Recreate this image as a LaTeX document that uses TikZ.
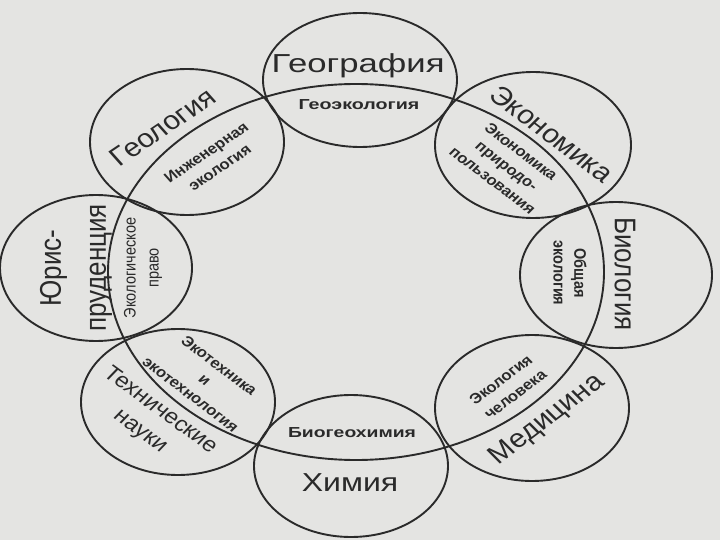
\documentclass[tikz,border=0pt]{standalone}
\usepackage{fontspec}
\setmainfont{Liberation Sans}
\definecolor{ink}{HTML}{2A2A2A}
\definecolor{paper}{HTML}{E4E4E2}
\begin{document}
\begin{tikzpicture}[x=1pt,y=-1pt,
  ring/.style={draw=ink, line width=1.9pt},
  biglbl/.style={font=\fontsize{26}{36}\selectfont, text=ink, align=center, inner sep=0pt},
  smalllbl/.style={font=\bfseries\fontsize{14.5}{19}\selectfont, text=ink, align=center, inner sep=0pt}]
\fill[paper] (0,0) rectangle (720,540);
\useasboundingbox (0,0) rectangle (720,540);
% disciplines
\draw[ring] (360,80) ellipse [x radius=97pt, y radius=67pt];   % geography
\draw[ring] (187,142) ellipse [x radius=97pt, y radius=73pt];  % geology
\draw[ring] (533,145) ellipse [x radius=98pt, y radius=73pt];  % economics
\draw[ring] (616,275) ellipse [x radius=96pt, y radius=73pt];  % biology
\draw[ring] (532,408) ellipse [x radius=97pt, y radius=73pt];  % medicine
\draw[ring] (351,466) ellipse [x radius=97pt, y radius=71pt];  % chemistry
\draw[ring] (178,402) ellipse [x radius=97pt, y radius=73pt];  % technical
\draw[ring] (96,268) ellipse [x radius=96pt, y radius=73pt];   % law
% central ecology ring
\draw[ring] (356,272) ellipse [x radius=248pt, y radius=188pt];
\begin{scope}[xscale=1.15, transform shape]
\node[biglbl, xscale=1.16] (tgeog) at ({358/1.15},66) {География};
\node[smalllbl, xscale=1.18] (igeog) at ({359/1.15},105) {Геоэкология};
\node[biglbl, rotate=37.8] (tgeol) at ({163/1.15},127) {Геология};
\node[smalllbl, rotate=37.8] (igeol) at ({213/1.15},160) {Инженерная\\экология};
\node[biglbl, rotate=-40.9] (tecon) at ({552/1.15},134) {Экономика};
\node[smalllbl, rotate=-40.9] (iecon) at ({507/1.15},166) {Экономика\\природо-\\пользования};
\node[biglbl, rotate=-90] (tbio) at ({625/1.15},274) {Биология};
\node[smalllbl, rotate=-90, font=\bfseries\fontsize{14.5}{18}\selectfont] (ibio) at ({570/1.15},273) {Общая\\экология};
\node[biglbl, rotate=40.9] (tmed) at ({547/1.15},420) {Медицина};
\node[smalllbl, rotate=40.9] (imed) at ({508/1.15},387) {Экология\\человека};
\node[biglbl, xscale=1.07] (tchem) at ({350/1.15},483) {Химия};
\node[smalllbl, xscale=1.16] (ichem) at ({352/1.15},433) {Биогеохимия};
\node[biglbl, rotate=-39.9, font=\fontsize{21}{27}\selectfont] (ttech) at ({150/1.15},421) {Технические\\науки};
\node[smalllbl, rotate=-40.9] (itech) at ({205/1.15},380) {Экотехника\\и\\экотехнология};
\node[biglbl, rotate=90, font=\fontsize{26}{39}\selectfont] (tlaw) at ({76/1.15},268) {Юрис-\\пруденция};
\node[smalllbl, rotate=90, font=\fontsize{14.5}{20}\selectfont] (ilaw) at ({143/1.15},268) {Экологическое\\право};
\end{scope}
\end{tikzpicture}
\end{document}
